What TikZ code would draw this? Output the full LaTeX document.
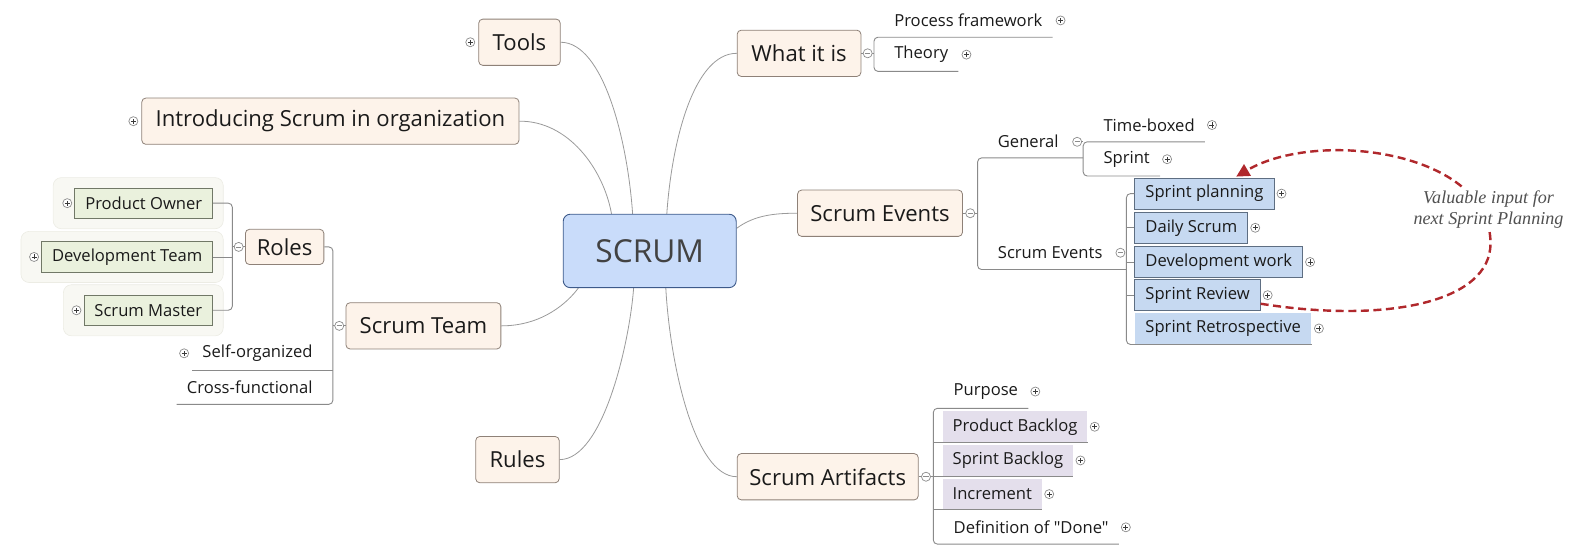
\documentclass[tikz,border=0pt]{standalone}
\usepackage{fontspec}
\setsansfont{Open Sans}[Ligatures=TeXOff]
\renewcommand{\familydefault}{\sfdefault}
\newfontfamily\notefont{Liberation Serif}
\usetikzlibrary{arrows.meta,calc,backgrounds}

\definecolor{topicfill}{HTML}{FDF3EA}
\definecolor{topicline}{HTML}{8E8178}
\definecolor{rootfill}{HTML}{C9DCFA}
\definecolor{rootline}{HTML}{3D5A8A}
\definecolor{rootink}{HTML}{424242}
\definecolor{eventfill}{HTML}{C6D9F1}
\definecolor{eventline}{HTML}{5E6E82}
\definecolor{rolefill}{HTML}{EAF1DD}
\definecolor{roleline}{HTML}{717867}
\definecolor{panelfill}{HTML}{F8F8F3}
\definecolor{panelline}{HTML}{ECECE4}
\definecolor{artfill}{HTML}{E4DFEC}
\definecolor{linkgray}{HTML}{9A9A9A}
\definecolor{branchgray}{HTML}{8A8A8A}
\definecolor{feedback}{HTML}{B0282C}
\definecolor{ink}{HTML}{1A1A1A}
\definecolor{noteink}{HTML}{505050}
\definecolor{btnline}{HTML}{8C8C8C}
\definecolor{btnsign}{HTML}{3A3A3A}

\newcommand{\subfont}{\fontsize{16.5}{19}\selectfont}

\tikzset{
  root/.style={draw=rootline, fill=rootfill, line width=0.9pt, rounded corners=7pt,
    minimum width=172pt, minimum height=73pt, font=\fontsize{31.5}{36}\selectfont, text=rootink},
  topic/.style={draw=topicline, fill=topicfill, line width=0.8pt, rounded corners=4pt,
    minimum height=46pt, inner xsep=0pt, font=\fontsize{22}{26}\selectfont, text=ink},
  plainR/.style={anchor=south west, inner xsep=10pt, inner ysep=0pt, minimum height=33pt,
    font=\subfont, text=ink},
  plainL/.style={plainR, anchor=south east},
  evbox/.style={anchor=west, draw=eventline, fill=eventfill, line width=0.8pt,
    inner xsep=10.5pt, inner ysep=0pt, minimum height=31pt, font=\subfont, text=ink},
  artbox/.style={anchor=south west, fill=artfill, inner xsep=10pt, inner ysep=0pt,
    minimum height=31pt, font=\subfont, text=ink},
  rolebox/.style={anchor=east, draw=roleline, fill=rolefill, line width=0.8pt,
    inner xsep=10.5pt, inner ysep=0pt, minimum height=30pt, font=\subfont, text=ink},
  panel/.style={fill=panelfill, draw=panelline, rounded corners=8pt, line width=0.6pt},
  link/.style={draw=linkgray, line width=0.8pt},
  branch/.style={draw=branchgray, line width=0.9pt, rounded corners=4pt},
  feedbackarrow/.style={draw=feedback, line width=2.4pt, dash pattern=on 8pt off 4.5pt,
    -{Triangle[length=13pt,width=13pt]}},
  note/.style={fill=white, inner sep=2pt, align=center, text=noteink,
    font=\notefont\itshape\fontsize{18}{21}\selectfont},
  pics/plusbtn/.style={code={
    \draw[btnline, fill=white, line width=0.7pt] (0,0) circle[radius=4.5pt];
    \draw[btnsign, line width=0.8pt] (-2.5pt,0) -- (2.5pt,0) (0,-2.5pt) -- (0,2.5pt);}},
  pics/minusbtn/.style={code={
    \draw[btnline, fill=white, line width=0.7pt] (0,0) circle[radius=4.5pt];
    \draw[btnline, line width=0.8pt] (-2.5pt,0) -- (2.5pt,0);}},
}

\begin{document}
\begin{tikzpicture}[x=1pt, y=-1pt]
\useasboundingbox (0,0) rectangle (1568,551);

% central idea and main topics
\node[root] (scrum) at (646,249.5) {SCRUM};
\node[topic, minimum width=81pt] (tools) at (516.5,42) {Tools};
\node[topic, minimum width=375pt] (intro) at (328.5,120.5) {Introducing Scrum in organization};
\node[topic, minimum width=123pt] (what) at (794.5,53) {What it is};
\node[topic, minimum width=164pt] (events) at (875,212) {Scrum Events};
\node[topic, minimum width=78pt, minimum height=35pt] (roles) at (283,245.5) {Roles};
\node[topic, minimum width=154pt] (team) at (421,324) {Scrum Team};
\node[topic, minimum width=83pt] (rules) at (514.5,457) {Rules};
\node[topic, minimum width=180pt] (artifacts) at (823,474) {Scrum Artifacts};

% branch joints
\coordinate (wB) at (869,53);
\coordinate (eB) at (972,212);
\coordinate (gB) at (1077,157);
\coordinate (evB) at (1120,252);
\coordinate (aB) at (928,474);
\coordinate (tB) at (331,324);
\coordinate (rB) at (231,245.5);

% What it is
\node[plainR] (pf) at (879,37) {Process framework};
\node[plainR] (th) at (879,71) {Theory};

% Scrum Events
\node[plainR] (gen) at (982,157) {General};
\node[plainR] (tb) at (1087,141) {Time-boxed};
\node[plainR] (spr) at (1087,175) {Sprint};
\node[plainR] (se) at (982,268) {Scrum Events};
\node[evbox] (sp) at (1128,192.5) {Sprint planning};
\node[evbox] (ds) at (1128,226.5) {Daily Scrum};
\node[evbox] (dw) at (1128,260.5) {Development work};
\node[evbox] (sr) at (1128,293.5) {Sprint Review};
\node[evbox, draw=none, anchor=south west] (retro) at (1128,342.5) {Sprint Retrospective};

% Scrum Artifacts
\node[plainR] (pur) at (938,406) {Purpose};
\node[artbox] (pb) at (937,440) {Product Backlog};
\node[artbox] (sb) at (937,473.5) {Sprint Backlog};
\node[artbox] (inc) at (937,507) {Increment};
\node[plainR] (def) at (938,541) {Definition of "Done"};

% Scrum Team
\node[plainL] (so) at (321,368) {Self-organized};
\node[plainL] (cf) at (321,402) {Cross-functional};
\node[rolebox] (po) at (212,202) {Product Owner};
\node[rolebox] (dt) at (212,255.5) {Development Team};
\node[rolebox] (sm) at (212,308.5) {Scrum Master};

\begin{scope}[on background layer]
  \foreach \r/\l in {po/21, dt/20, sm/20}
    \path[panel] ([xshift=-\l pt, yshift=10pt]\r.north west) rectangle ([xshift=10pt, yshift=-10pt]\r.south east);
  % curved links from the central idea
  \draw[link] (intro.east) .. controls (565,120) and (600,168) .. ([xshift=-38pt]scrum.north);
  \draw[link] (tools.east) .. controls (600,42) and (624,140) .. ([xshift=-17pt]scrum.north);
  \draw[link] (what.west) .. controls (690,53) and (668,140) .. ([xshift=17pt]scrum.north);
  \draw[link] ([yshift=22.5pt]scrum.east) .. controls (750,214) and (770,212) .. (events.west);
  \draw[link] (team.east) .. controls (540,324) and (565,300) .. ([xshift=-71pt]scrum.south);
  \draw[link] (rules.east) .. controls (600,457) and (626,340) .. ([xshift=-16pt]scrum.south);
  \draw[link] (artifacts.west) .. controls (690,474) and (666,360) .. ([xshift=16pt]scrum.south);
\end{scope}

% brackets: What it is
\draw[branch] (what.east) -- (wB);
\draw[branch] (pf.south east) -- (wB |- pf.south) -- (wB |- th.south) -- (th.south east);

% brackets: Scrum Events
\draw[branch] (events.east) -- (eB);
\draw[branch] (gB) -- (eB |- gB) -- (eB |- se.south) -- (evB |- se.south);
\draw[branch] (tb.south east) -- (gB |- tb.south) -- (gB |- spr.south) -- (spr.south east);
\draw[branch] ([xshift=-6pt]gB |- tb.south) -- (gB |- tb.south);
\draw[branch] (sp.west) -- (evB |- sp.west) -- (evB |- retro.south) -- (retro.south east);
\foreach \n in {ds, dw, sr}
  \draw[branch] (evB |- \n.west) -- (\n.west);

% brackets: Scrum Artifacts
\draw[branch] (artifacts.east) -- (aB);
\draw[branch] (pur.south east) -- (aB |- pur.south) -- (aB |- def.south) -- (def.south east);
\foreach \n in {pb, sb, inc}
  \draw[branch] (aB |- \n.south) -- (\n.south east);

% brackets: Scrum Team and Roles
\draw[branch] (team.west) -- (tB);
\draw[branch] (roles.east) -- (tB |- roles.east) -- (tB |- cf.south) -- (cf.south west);
\draw[branch] (tB |- so.south) -- (so.south west);
\draw[branch] (roles.west) -- (rB);
\draw[branch] (po.east) -- (rB |- po.east) -- (rB |- sm.east) -- (sm.east);
\draw[branch] (dt.east) -- (rB |- dt.east);

% feedback loop from the review to the next planning
\draw[feedbackarrow] ([yshift=-8.5pt]sr.east) .. controls (1380,322) and (1482,300) .. (1482,242)
  .. controls (1482,150) and (1310,128) .. ([xshift=-38pt, yshift=1pt]sp.north east);
\node[note] (loopnote) at (1480,208) {Valuable input for\\next Sprint Planning};

% collapse buttons
\pic at ($(what.east)!0.5!(wB)$) {minusbtn};
\pic at ($(events.east)!0.5!(eB)$) {minusbtn};
\pic at ($(artifacts.east)!0.5!(aB)$) {minusbtn};
\pic at ($(team.west)!0.5!(tB)$) {minusbtn};
\pic at ($(roles.west)!0.5!(rB)$) {minusbtn};
\pic at ([xshift=-6pt]gB |- tb.south) {minusbtn};
\pic at ([xshift=-6pt]evB |- se.east) {minusbtn};

% expand buttons
\pic at ([xshift=-8pt]tools.west) {plusbtn};
\pic at ([xshift=-8pt]intro.west) {plusbtn};
\pic at ([xshift=8pt]pf.east) {plusbtn};
\pic at ([xshift=8pt]th.east) {plusbtn};
\pic at ([xshift=7pt]tb.east) {plusbtn};
\pic at ([xshift=7pt]spr.east) {plusbtn};
\foreach \n in {sp, ds, dw, sr, retro}
  \pic at ([xshift=7pt]\n.east) {plusbtn};
\pic at ([xshift=7pt]pur.east) {plusbtn};
\foreach \n in {pb, sb, inc}
  \pic at ([xshift=7pt]\n.east) {plusbtn};
\pic at ([xshift=7pt]def.east) {plusbtn};
\pic at ([xshift=-8pt]so.west) {plusbtn};
\foreach \n in {po, dt, sm}
  \pic at ([xshift=-7pt]\n.west) {plusbtn};
\end{tikzpicture}
\end{document}
